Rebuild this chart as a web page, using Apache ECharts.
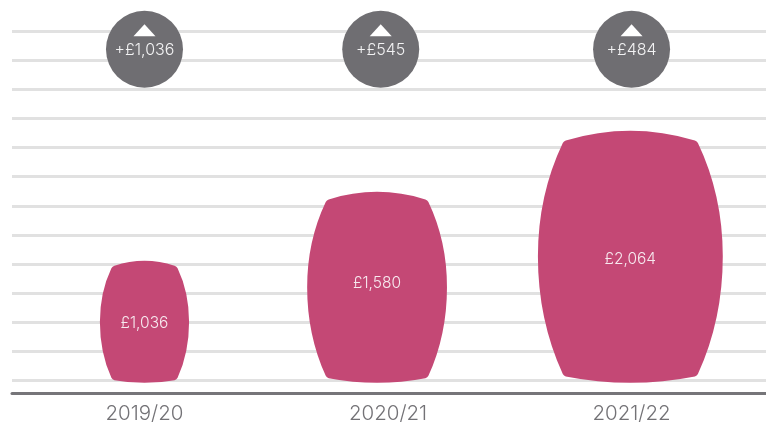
<!DOCTYPE html>
<html>
<head>
<meta charset="utf-8">
<style>html,body{margin:0;padding:0;background:#fff}#chart{width:766px;height:422px}</style>
<script src="https://cdn.jsdelivr.net/npm/echarts@6/dist/echarts.min.js"></script>
</head>
<body>
<div id="chart"></div>
<script>
// Yearly totals and the rise on the previous year
const years = ['2019/20', '2020/21', '2021/22'];
const totals = [1036, 1580, 2064];
const rises = [1036, 545, 484];

// Where each year sits along the horizontal axis
const yearSlots = [0, 1, 2];
const barrelSlots = [0, 0.955, 1.995];
const bubbleSlots = [0, 0.97, 2];
const labelShift = [1, -5, 2];

// Horizontal rules, the barrel foot and the bubble row, in axis units
const ruleLevels = [100, 330, 560, 790, 1020, 1250, 1480, 1710, 1940, 2170, 2400, 2630, 2860];
const barrelFoot = 78;
const bubbleLevel = 2718;
const arrowLevel = 2868;

const FONT = 'Inter, "Open Sans", sans-serif';
const PINK = '#c44875';
const GREY = '#6f6e72';
const money = v => '£' + v.toLocaleString('en-GB');

// Barrel outline: bowed top and bottom, sides swelling in one arc to the middle
function barrelPath(cx, top, bottom) {
  const h = bottom - top;
  const half = h * 0.368;
  const corner = half * 0.72;
  const mid = top + h * 0.495;
  const topDrop = h * 0.036;
  const botDrop = h * 0.028;
  const r = 2;
  const yT = top + topDrop, yB = bottom - botDrop;
  const L = cx - half, R = cx + half;
  const upper = yT + (mid - yT) * 0.47;
  const lower = yB - (yB - mid) * 0.47;
  return [
    'M', cx - corner + r, yT - 0.6,
    'Q', cx, top - topDrop - 2, cx + corner - r, yT - 0.6,
    'Q', cx + corner, yT, cx + corner + 1, yT + r,
    'Q', R, upper, R, mid,
    'Q', R, lower, cx + corner + 1, yB - r,
    'Q', cx + corner, yB, cx + corner - r, yB + 0.4,
    'Q', cx, bottom + botDrop - 1, cx - corner + r, yB + 0.4,
    'Q', cx - corner, yB, cx - corner - 1, yB - r,
    'Q', L, lower, L, mid,
    'Q', L, upper, cx - corner - 1, yT + r,
    'Q', cx - corner, yT, cx - corner + r, yT - 0.6,
    'Z'
  ].join(' ');
}

const chart = echarts.init(document.getElementById('chart'), null, { renderer: 'canvas' });
chart.setOption({
  animation: false,
  backgroundColor: '#fff',
  grid: { left: 12, right: 0, top: 20, bottom: 29, outerBoundsMode: 'none' },
  xAxis: {
    type: 'value',
    min: -0.544,
    max: 2.552,
    splitLine: { show: false },
    axisLine: { show: true, onZero: false, lineStyle: { color: '#767579', width: 3 } },
    axisTick: { show: false },
    axisLabel: {
      customValues: yearSlots,
      formatter: v => years[Math.round(v)],
      color: '#737276',
      fontFamily: FONT,
      fontSize: 20.5,
      fontWeight: 300,
      margin: 10,
      showMinLabel: true,
      showMaxLabel: true
    }
  },
  yAxis: {
    type: 'value',
    min: 0,
    max: 2949,
    axisLine: { show: false },
    axisLabel: { show: false },
    axisTick: { show: false, customValues: ruleLevels },
    splitLine: { show: true, lineStyle: { color: '#e1e1e1', width: 3 } }
  },
  series: [
    {
      type: 'custom',
      data: totals.map((v, i) => [barrelSlots[i], v, labelShift[i]]),
      encode: { x: 0, y: 1 },
      clip: false,
      z: 3,
      renderItem(params, api) {
        const [cx, top] = api.coord([api.value(0), api.value(1)]);
        const [, bottom] = api.coord([api.value(0), barrelFoot]);
        return {
          type: 'group',
          children: [
            { type: 'path', shape: { pathData: barrelPath(cx, top, bottom) }, style: { fill: PINK } },
            {
              type: 'text',
              z2: 5,
              style: {
                x: cx,
                y: (top + bottom) / 2 + api.value(2),
                text: money(api.value(1)),
                fill: '#f7e9ef',
                font: '300 15.5px ' + FONT,
                align: 'center',
                verticalAlign: 'middle'
              }
            }
          ]
        };
      }
    },
    {
      type: 'scatter',
      symbol: 'circle',
      symbolSize: 77,
      itemStyle: { color: GREY, opacity: 1 },
      z: 4,
      data: rises.map((v, i) => [bubbleSlots[i], bubbleLevel, v]),
      label: {
        show: true,
        position: 'inside',
        offset: [0, 1],
        formatter: p => '+' + money(p.value[2]),
        color: '#f2f2f3',
        fontFamily: FONT,
        fontSize: 16,
        fontWeight: 300
      }
    },
    {
      type: 'scatter',
      symbol: 'triangle',
      symbolSize: [22, 12],
      itemStyle: { color: '#ffffff', opacity: 1 },
      z: 5,
      data: rises.map((v, i) => [bubbleSlots[i], arrowLevel])
    }
  ]
});
</script>
</body>
</html>
